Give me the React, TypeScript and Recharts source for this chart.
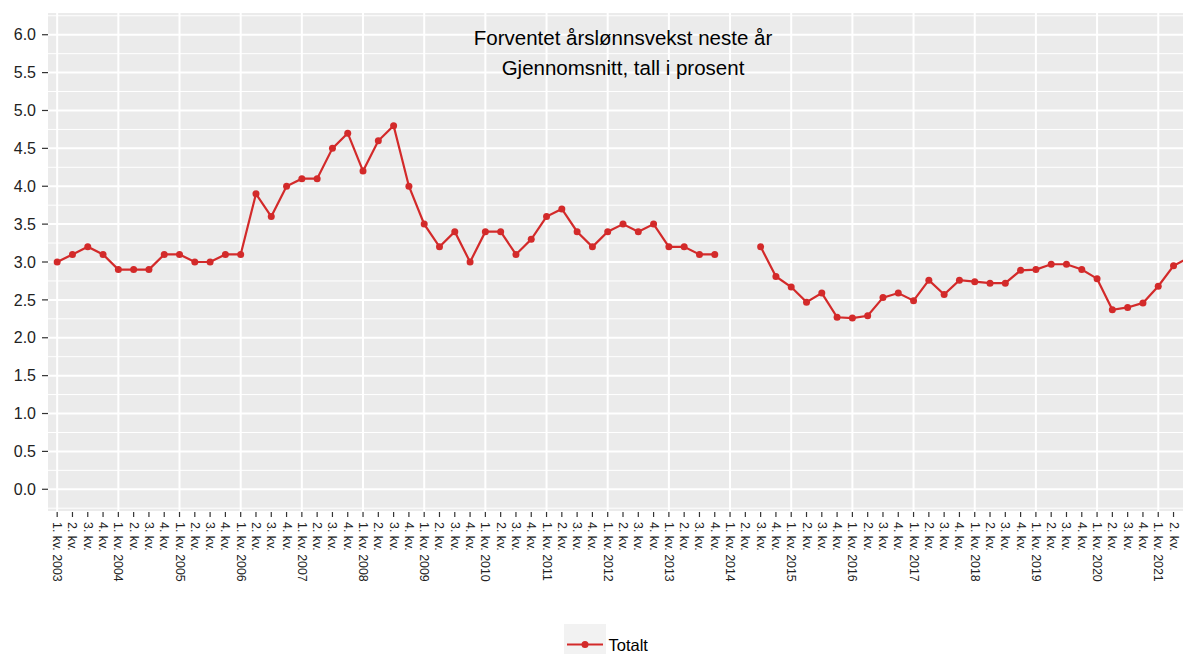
import React from 'react';
import { LineChart, Line, XAxis, YAxis, CartesianGrid, ReferenceLine } from 'recharts';

const years = [2003, 2004, 2005, 2006, 2007, 2008, 2009, 2010, 2011, 2012, 2013, 2014, 2015, 2016, 2017, 2018, 2019, 2020, 2021];
const quarterNames = ['1. kv.', '2. kv.', '3. kv.', '4. kv.'];

const totalt: (number | null)[] = [
  3.0, 3.1, 3.2, 3.1,
  2.9, 2.9, 2.9, 3.1,
  3.1, 3.0, 3.0, 3.1,
  3.1, 3.9, 3.6, 4.0,
  4.1, 4.1, 4.5, 4.7,
  4.2, 4.6, 4.8, 4.0,
  3.5, 3.2, 3.4, 3.0,
  3.4, 3.4, 3.1, 3.3,
  3.6, 3.7, 3.4, 3.2,
  3.4, 3.5, 3.4, 3.5,
  3.2, 3.2, 3.1, 3.1,
  null, null, 3.2, 2.81,
  2.67, 2.47, 2.59, 2.27,
  2.26, 2.29, 2.53, 2.59,
  2.49, 2.76, 2.57, 2.76,
  2.74, 2.72, 2.72, 2.89,
  2.9, 2.97, 2.97, 2.9,
  2.78, 2.37, 2.4, 2.46,
  2.68, 2.95, 3.06,
];

const categoryLabels: string[] = years
  .flatMap((y) => quarterNames.map((q, qi) => (qi === 0 ? `${q} ${y}` : q)))
  .slice(0, totalt.length);

const yTicks = [0, 0.5, 1, 1.5, 2, 2.5, 3, 3.5, 4, 4.5, 5, 5.5, 6];
const yMinor = [-0.25, 0.25, 0.75, 1.25, 1.75, 2.25, 2.75, 3.25, 3.75, 4.25, 4.75, 5.25, 5.75, 6.25];
const yearStartIndex = years.map((_, k) => k * 4).filter((i) => i < totalt.length);

const data = totalt.map((v, i) => ({ i, label: categoryLabels[i], totalt: v }));
// the last quarter lies beyond the visible edge of the picture, so its tick is not shown
const xTicks = data.map((d) => d.i).slice(0, data.length - 1);

const FONT = '"Liberation Sans", Arial, sans-serif';
const RED = '#D32A2A';

const XTick = (props: any) => {
  const { x, y, payload } = props;
  return (
    <text
      transform={`translate(${x},${y}) rotate(90)`}
      textAnchor="start"
      dominantBaseline="central"
      fontSize={12.4}
      fontFamily={FONT}
      fill="#222"
    >
      {categoryLabels[payload.value]}
    </text>
  );
};

export default function App() {
  return (
    <div style={{ position: 'absolute', left: 0, top: 0, width: 1183, height: 654, overflow: 'hidden', background: '#fff' }}>
      <LineChart
        width={1215}
        height={654}
        data={data}
        margin={{ top: 12, right: 17, left: 0, bottom: 0 }}
        style={{ fontFamily: FONT }}
      >
        <CartesianGrid fill="#EBEBEB" fillOpacity={1} vertical={false} stroke="#FFFFFF" strokeWidth={2} />
        {yMinor.map((v) => (
          <ReferenceLine key={`m${v}`} y={v} stroke="#FFFFFF" strokeWidth={1} />
        ))}
        {yearStartIndex.map((i) => (
          <ReferenceLine key={`v${i}`} x={i} stroke="#FFFFFF" strokeWidth={2} />
        ))}
        <XAxis
          dataKey="i"
          type="number"
          domain={[-0.6, 74.6]}
          allowDataOverflow
          ticks={xTicks}
          interval={0}
          height={142}
          axisLine={false}
          tickLine={{ stroke: '#333333', strokeWidth: 1.2 }}
          tickSize={5}
          tickMargin={5}
          tick={<XTick />}
        />
        <YAxis
          type="number"
          domain={[-0.3, 6.3]}
          allowDataOverflow
          ticks={yTicks}
          interval={0}
          width={48}
          axisLine={false}
          tickLine={{ stroke: '#333333', strokeWidth: 1.2 }}
          tickSize={6}
          tickMargin={6}
          tickFormatter={(v: number) => v.toFixed(1)}
          tick={{ fontSize: 16, fill: '#222', fontFamily: FONT }}
        />
        <Line
          type="linear"
          dataKey="totalt"
          name="Totalt"
          stroke={RED}
          strokeWidth={2.2}
          dot={{ r: 3.5, fill: RED, stroke: RED, strokeWidth: 0 }}
          activeDot={false}
          connectNulls={false}
          isAnimationActive={false}
        />
      </LineChart>
      <svg
        width={1183}
        height={654}
        style={{ position: 'absolute', left: 0, top: 0, pointerEvents: 'none' }}
      >
        <text x={623} y={45} textAnchor="middle" fontSize={20.5} fontFamily={FONT} fill="#000">
          Forventet årslønnsvekst neste år
        </text>
        <text x={623} y={75} textAnchor="middle" fontSize={20.5} fontFamily={FONT} fill="#000">
          Gjennomsnitt, tall i prosent
        </text>
        <rect x={564} y={624} width={42} height={42} fill="#F2F2F2" />
        <line x1={567} y1={644.5} x2={603} y2={644.5} stroke={RED} strokeWidth={2.2} />
        <circle cx={585} cy={644.5} r={3.5} fill={RED} />
        <text x={608.5} y={650.5} fontSize={16.5} fontFamily={FONT} fill="#000">
          Totalt
        </text>
      </svg>
    </div>
  );
}
